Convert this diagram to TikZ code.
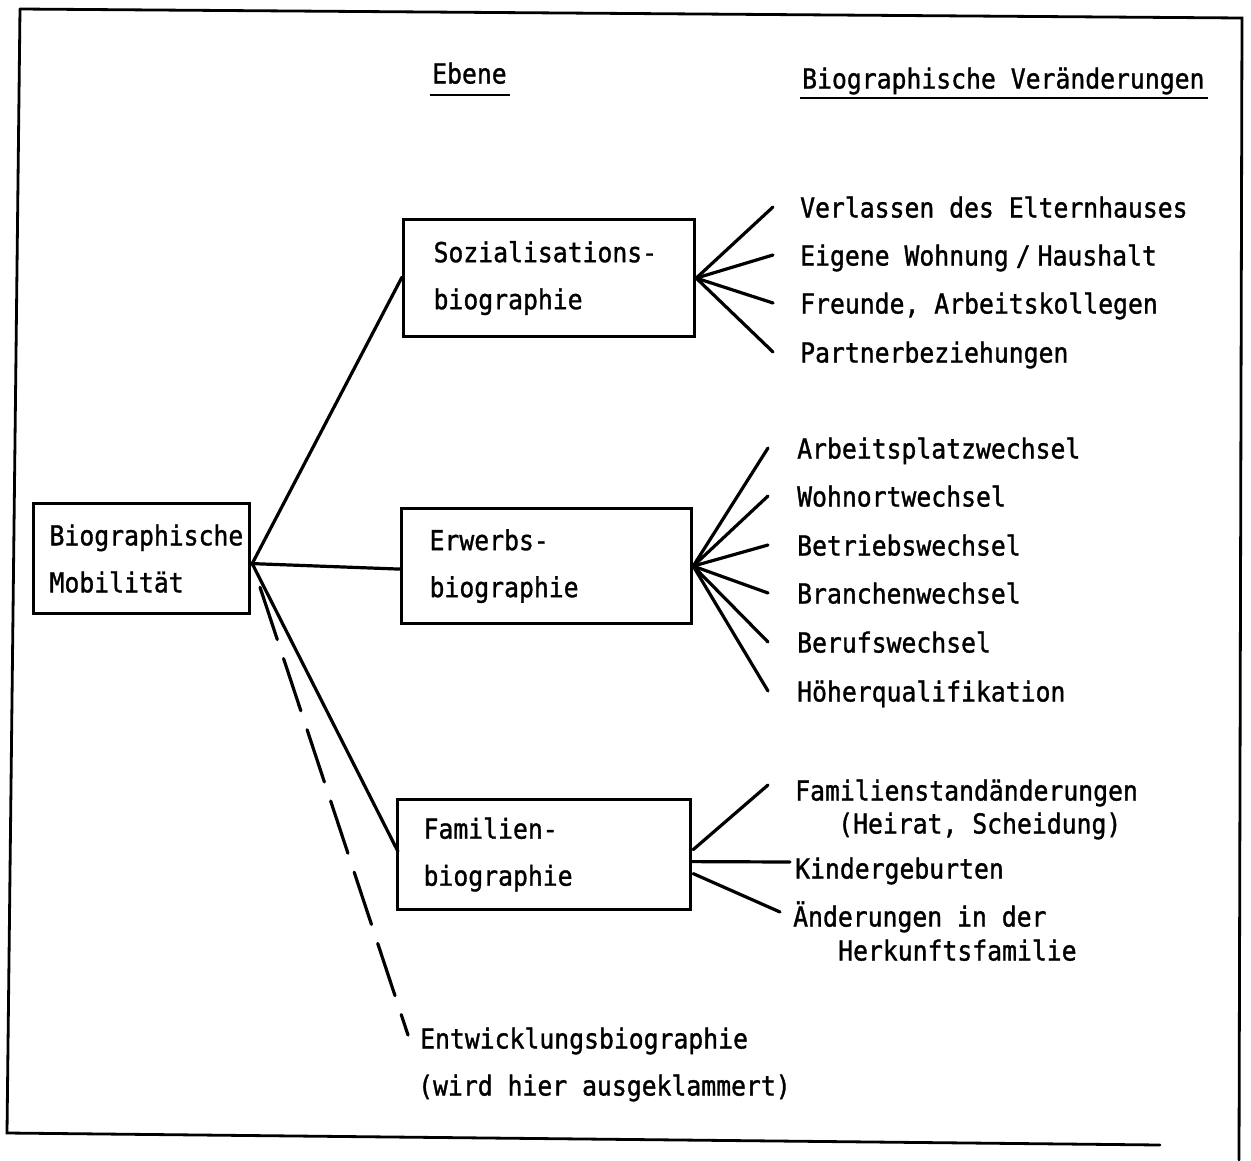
\documentclass[tikz,border=0pt]{standalone}
\usepackage{fontspec}
\setmonofont[FakeStretch=0.9,FakeBold=1.2]{DejaVu Sans Mono}
\usetikzlibrary{calc}
\begin{document}
\begin{tikzpicture}[x=1pt,y=-1pt,
  font=\ttfamily\fontsize{27.5}{47}\selectfont,
  lbl/.style={anchor=west, inner sep=0pt, text height=21pt, text depth=0pt},
  boxnode/.style={draw, line width=3.2pt, anchor=north west, inner xsep=0pt, inner ysep=0pt, align=left},
  conn/.style={line width=3.2pt, line cap=round},
  framel/.style={line width=2.8pt, line cap=round}]
\useasboundingbox (0,0) rectangle (1251,1160);
% frame
\coordinate (ftl) at (20,9);
\coordinate (ftr) at (1242,18);
\coordinate (fbl) at (7,1133);
\coordinate (fbr) at (1160,1145);
\coordinate (frb) at (1239,1160);
\draw[framel] (ftl) -- (ftr) -- (frb);
\draw[framel] (ftl) -- (fbl) -- (fbr);
% headers
\node[lbl] (ebene) at (432,73) {Ebene};
\node[lbl] (bv) at (802,78) {Biographische Veränderungen};
\draw[line width=2.4pt] ($(ebene.west)+(-2,22)$) -- ($(ebene.east)+(3,22)$);
\draw[line width=2.4pt] ($(bv.west)+(-2,20)$) -- ($(bv.east)+(3,20)$);
% boxes
\node[boxnode, minimum width=216pt, minimum height=110pt, text width=184pt] (mob) at (32,502) {\mbox{Biographische}\\\mbox{Mobilität}};
\node[boxnode, minimum width=291pt, minimum height=117pt, text width=231pt] (soz) at (402,218) {Sozialisations-\\biographie};
\node[boxnode, minimum width=290pt, minimum height=115pt, text width=234pt] (erw) at (400,507) {Erwerbs-\\biographie};
\node[boxnode, minimum width=293pt, minimum height=110pt, text width=241pt] (fam) at (396,798) {Familien-\\biographie};
% Sozialisation labels
\node[lbl] (s1) at (800,207) {Verlassen des Elternhauses};
\node[lbl] (s2) at (800,255) {Eigene Wohnung{\spaceskip=7pt\relax{} / }Haushalt};
\node[lbl] (s3) at (800,303) {Freunde, Arbeitskollegen};
\node[lbl] (s4) at (800,352) {Partnerbeziehungen};
% Erwerbs labels
\node[lbl] (e1) at (797,448) {Arbeitsplatzwechsel};
\node[lbl] (e2) at (797,496) {Wohnortwechsel};
\node[lbl] (e3) at (797,545) {Betriebswechsel};
\node[lbl] (e4) at (797,593) {Branchenwechsel};
\node[lbl] (e5) at (797,642) {Berufswechsel};
\node[lbl] (e6) at (797,691) {Höherqualifikation};
% Familien labels
\node[lbl] (f1) at (795,790) {Familienstandänderungen};
\node[lbl] (f1b) at (838,823) {(Heirat, Scheidung)};
\node[lbl] (f2) at (795,868) {Kindergeburten};
\node[lbl] (f3) at (793,916) {Änderungen in der};
\node[lbl] (f3b) at (838,950) {Herkunftsfamilie};
% Entwicklung
\node[lbl] (ent) at (420,1038) {Entwicklungsbiographie};
\node[lbl] (entb) at (418,1085) {(wird hier ausgeklammert)};
% main connectors
\coordinate (hub) at ($(mob.east)+(1,5)$);
\draw[conn] (hub) -- ($(soz.west)+(0,-1)$);
\draw[conn] (hub) -- ($(erw.west)+(0,3)$);
\draw[conn] (hub) -- ($(fam.west)+(2,-3)$);
\draw[conn, dash pattern=on 55pt off 20pt, shorten <=25pt] (hub) -- ($(ent.west)+(-12,-3)$);
% fans
\foreach \n in {s1,s2,s3,s4}
  \draw[conn] (soz.east) -- ($(\n.west)+(-27,0)$);
\foreach \n in {e1,e2,e3,e4,e5,e6}
  \draw[conn] (erw.east) -- ($(\n.west)+(-29,0)$);
\draw[conn] ($(fam.east)+(1,-5)$) -- ($(f1.west)+(-27,-5)$);
\draw[conn] ($(fam.east)+(0,7)$) -- ($(f2.west)+(-5,-6)$);
\draw[conn] ($(fam.east)+(1,19)$) -- ($(f3.west)+(-13,-4)$);
\end{tikzpicture}
\end{document}
